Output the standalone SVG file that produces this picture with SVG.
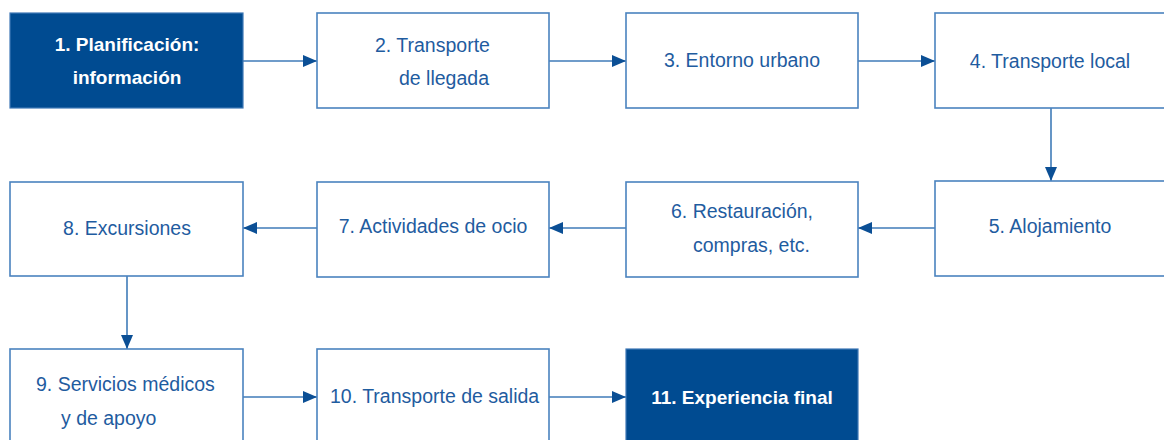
<svg xmlns="http://www.w3.org/2000/svg" width="1164" height="440" viewBox="0 0 1164 440">
<style>
.box{fill:#ffffff;stroke:#4a83bf;stroke-width:1.6}
.dark{fill:#004b91;stroke:#3f78b6;stroke-width:1.2}
.t{font-family:"Liberation Sans",Arial,sans-serif;font-size:19.5px;fill:#1f5c9f}
.w{font-family:"Liberation Sans",Arial,sans-serif;font-size:19px;font-weight:bold;fill:#ffffff}
.c{stroke:#3f7bb8;stroke-width:1.6;fill:none}
</style>
<defs>
<marker id="ah" markerWidth="14" markerHeight="12" refX="14" refY="6" orient="auto" markerUnits="userSpaceOnUse">
<path d="M0,0 L14,6 L0,12 Z" fill="#0b4f95"/>
</marker>
</defs>
<rect width="1164" height="440" fill="#ffffff"/>
<g id="connectors">
<line class="c" x1="243" y1="61" x2="317" y2="61" marker-end="url(#ah)"/>
<line class="c" x1="549" y1="61" x2="626" y2="61" marker-end="url(#ah)"/>
<line class="c" x1="858" y1="61" x2="935" y2="61" marker-end="url(#ah)"/>
<line class="c" x1="1051" y1="108" x2="1051" y2="181" marker-end="url(#ah)"/>
<line class="c" x1="935" y1="228" x2="858" y2="228" marker-end="url(#ah)"/>
<line class="c" x1="626" y1="228" x2="549" y2="228" marker-end="url(#ah)"/>
<line class="c" x1="317" y1="228" x2="243" y2="228" marker-end="url(#ah)"/>
<line class="c" x1="127" y1="276" x2="127" y2="349" marker-end="url(#ah)"/>
<line class="c" x1="243" y1="397" x2="317" y2="397" marker-end="url(#ah)"/>
<line class="c" x1="549" y1="397" x2="626" y2="397" marker-end="url(#ah)"/>
</g>
<g id="n1"><rect class="dark" x="10" y="13" width="233" height="95"/>
<text class="w" x="127" y="51" text-anchor="middle">1. Planificación:</text>
<text class="w" x="127" y="84" text-anchor="middle">información</text></g>
<g id="n2"><rect class="box" x="317" y="13" width="232" height="95"/>
<text class="t" x="375" y="52">2. Transporte</text>
<text class="t" x="399" y="85">de llegada</text></g>
<g id="n3"><rect class="box" x="626" y="13" width="232" height="95"/>
<text class="t" x="742" y="67" text-anchor="middle">3. Entorno urbano</text></g>
<g id="n4"><rect class="box" x="935" y="13" width="235" height="95"/>
<text class="t" x="1050" y="68" text-anchor="middle">4. Transporte local</text></g>
<g id="n5"><rect class="box" x="935" y="181" width="235" height="95"/>
<text class="t" x="1050" y="233" text-anchor="middle">5. Alojamiento</text></g>
<g id="n6"><rect class="box" x="626" y="182" width="232" height="95"/>
<text class="t" x="671" y="218">6. Restauración,</text>
<text class="t" x="693" y="252">compras, etc.</text></g>
<g id="n7"><rect class="box" x="317" y="182" width="232" height="95"/>
<text class="t" x="433" y="233" text-anchor="middle">7. Actividades de ocio</text></g>
<g id="n8"><rect class="box" x="10" y="182" width="233" height="94"/>
<text class="t" x="127" y="235" text-anchor="middle">8. Excursiones</text></g>
<g id="n9"><rect class="box" x="10" y="349" width="233" height="96"/>
<text class="t" x="36" y="391">9. Servicios médicos</text>
<text class="t" x="61" y="425">y de apoyo</text></g>
<g id="n10"><rect class="box" x="317" y="349" width="232" height="96"/>
<text class="t" x="330" y="403">10. Transporte de salida</text></g>
<g id="n11"><rect class="dark" x="626" y="349" width="232" height="96"/>
<text class="w" x="742" y="404" text-anchor="middle">11. Experiencia final</text></g>
</svg>
